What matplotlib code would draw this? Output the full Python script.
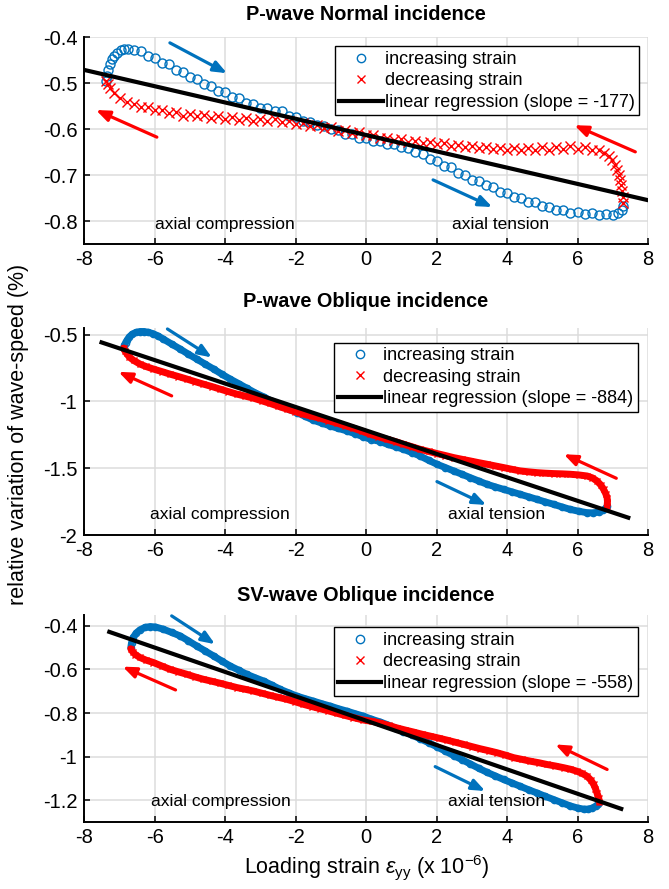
import matplotlib
matplotlib.use('Agg')
import matplotlib.pyplot as plt
import numpy as np
from matplotlib.ticker import FuncFormatter

plt.rcParams['font.family'] = 'Liberation Sans'
plt.rcParams['axes.unicode_minus'] = False
plt.rcParams['mathtext.fontset'] = 'custom'
plt.rcParams['mathtext.rm'] = 'Liberation Sans'
plt.rcParams['mathtext.it'] = 'Liberation Sans:italic'

blue = (0, 0.447, 0.741)
red = (1, 0, 0)

# ---- panel 1 : P-wave normal incidence
p1_inc_x = [-7.38, -7.36, -7.33, -7.28, -7.22, -7.15, -7.06, -6.96, -6.86, -6.76,
            -6.60, -6.40, -6.20, -6.00, -5.80, -5.60, -5.40, -5.20, -5.00, -4.80,
            -4.60, -4.40, -4.20, -4.00, -3.80, -3.60, -3.40, -3.20, -3.00, -2.80,
            -2.60, -2.40, -2.20, -2.00, -1.80, -1.60, -1.40, -1.20, -1.00, -0.80,
            -0.60, -0.40, -0.20, 0.00, 0.20, 0.40, 0.60, 0.80, 1.00, 1.20,
            1.40, 1.60, 1.80, 2.00, 2.20, 2.40, 2.60, 2.80, 3.00, 3.20,
            3.40, 3.60, 3.80, 4.00, 4.20, 4.40, 4.60, 4.80, 5.00, 5.20,
            5.40, 5.60, 5.80, 6.00, 6.20, 6.40, 6.60, 6.80, 7.00, 7.15, 7.25, 7.30]
p1_inc_y = [-0.495, -0.484, -0.471, -0.459, -0.448, -0.440, -0.433, -0.428, -0.426, -0.425,
            -0.428, -0.430, -0.440, -0.444, -0.456, -0.459, -0.471, -0.475, -0.487, -0.491,
            -0.502, -0.506, -0.517, -0.519, -0.529, -0.531, -0.542, -0.544, -0.553, -0.554,
            -0.561, -0.561, -0.571, -0.573, -0.582, -0.583, -0.591, -0.592, -0.600, -0.601,
            -0.610, -0.611, -0.619, -0.619, -0.626, -0.625, -0.632, -0.631, -0.639, -0.640,
            -0.650, -0.653, -0.664, -0.668, -0.679, -0.683, -0.695, -0.699, -0.710, -0.712,
            -0.722, -0.725, -0.737, -0.739, -0.748, -0.749, -0.757, -0.758, -0.767, -0.768,
            -0.775, -0.775, -0.781, -0.779, -0.785, -0.782, -0.787, -0.784, -0.786, -0.781, -0.775, -0.767]
p1_dec_x = [7.30, 7.29, 7.27, 7.24, 7.21, 7.17, 7.12, 7.06, 6.98, 6.88, 6.75, 6.60,
            6.40, 6.20, 6.00, 5.80, 5.60, 5.40, 5.20, 5.00, 4.80, 4.60,
            4.40, 4.20, 4.00, 3.80, 3.60, 3.40, 3.20, 3.00, 2.80, 2.60,
            2.40, 2.20, 2.00, 1.80, 1.60, 1.40, 1.20, 1.00, 0.80, 0.60,
            0.40, 0.20, 0.00, -0.20, -0.40, -0.60, -0.80, -1.00, -1.20, -1.40,
            -1.60, -1.80, -2.00, -2.20, -2.40, -2.60, -2.80, -3.00, -3.20, -3.40,
            -3.60, -3.80, -4.00, -4.20, -4.40, -4.60, -4.80, -5.00, -5.20, -5.40,
            -5.60, -5.80, -6.00, -6.20, -6.40, -6.60, -6.80, -7.00, -7.15, -7.28, -7.34, -7.37]
p1_dec_y = [-0.760, -0.748, -0.735, -0.722, -0.710, -0.699, -0.688, -0.677, -0.667, -0.658, -0.651, -0.646,
            -0.645, -0.639, -0.643, -0.637, -0.642, -0.638, -0.644, -0.639, -0.645, -0.640,
            -0.644, -0.641, -0.645, -0.640, -0.643, -0.638, -0.641, -0.636, -0.639, -0.634,
            -0.636, -0.630, -0.632, -0.627, -0.630, -0.625, -0.627, -0.621, -0.624, -0.618,
            -0.619, -0.612, -0.613, -0.606, -0.607, -0.601, -0.603, -0.596, -0.597, -0.591,
            -0.592, -0.586, -0.588, -0.582, -0.584, -0.578, -0.582, -0.577, -0.581, -0.575,
            -0.579, -0.573, -0.577, -0.571, -0.575, -0.569, -0.572, -0.566, -0.570, -0.563,
            -0.564, -0.557, -0.558, -0.551, -0.551, -0.544, -0.540, -0.531, -0.522, -0.511, -0.502, -0.494]

# ---- panel 2 : P-wave oblique incidence
p2_inc_x = [-6.88, -6.86, -6.83, -6.78, -6.72, -6.64, -6.54, -6.42, -6.30, -6.18, -6.05,
            -5.90, -5.76, -5.52, -5.28, -5.05, -4.81, -4.57, -4.33, -4.10, -3.86, -3.62,
            -3.39, -3.15, -2.91, -2.67, -2.44, -2.20, -1.97, -1.73, -1.50, -1.26, -1.02,
            -0.79, -0.55, -0.31, -0.08, 0.15, 0.40, 0.62, 0.85, 1.06, 1.30, 1.53, 1.77,
            2.01, 2.25, 2.48, 2.72, 2.95, 3.19, 3.43, 3.67, 3.90, 4.14, 4.37, 4.61, 4.85,
            5.08, 5.32, 5.56, 5.79, 6.03, 6.27, 6.45, 6.60, 6.72, 6.80, 6.84]
p2_inc_y = [-0.600, -0.580, -0.560, -0.538, -0.515, -0.496, -0.483, -0.476, -0.476, -0.482, -0.492,
            -0.510, -0.532, -0.570, -0.607, -0.645, -0.682, -0.720, -0.757, -0.795, -0.832, -0.866,
            -0.900, -0.935, -0.965, -1.000, -1.033, -1.058, -1.083, -1.112, -1.140, -1.162, -1.183,
            -1.202, -1.220, -1.242, -1.265, -1.285, -1.300, -1.322, -1.340, -1.358, -1.383, -1.408, -1.440,
            -1.470, -1.495, -1.520, -1.545, -1.570, -1.595, -1.620, -1.640, -1.658, -1.677, -1.695, -1.714, -1.733,
            -1.752, -1.770, -1.790, -1.808, -1.822, -1.833, -1.834, -1.828, -1.815, -1.800, -1.783]
p2_dec_x = [6.84, 6.85, 6.84, 6.80, 6.74, 6.66, 6.55, 6.42, 6.27, 6.03, 5.79, 5.56, 5.32,
            5.08, 4.85, 4.61, 4.37, 4.14, 3.90, 3.67, 3.43, 3.19, 2.95, 2.72, 2.48, 2.25,
            2.01, 1.77, 1.53, 1.30, 1.06, 0.85, 0.59, 0.35, 0.11, -0.12, -0.36, -0.60, -0.83,
            -1.07, -1.31, -1.55, -1.78, -2.02, -2.25, -2.49, -2.72, -2.96, -3.20, -3.43, -3.67,
            -3.91, -4.15, -4.38, -4.62, -4.86, -5.09, -5.33, -5.57, -5.80, -6.04, -6.25, -6.42,
            -6.60, -6.72, -6.80, -6.85, -6.88]
p2_dec_y = [-1.783, -1.750, -1.720, -1.690, -1.658, -1.625, -1.595, -1.572, -1.558, -1.550, -1.545, -1.542, -1.540,
            -1.537, -1.533, -1.527, -1.520, -1.508, -1.495, -1.483, -1.470, -1.458, -1.445, -1.433, -1.420, -1.405,
            -1.390, -1.374, -1.358, -1.339, -1.320, -1.302, -1.283, -1.264, -1.245, -1.222, -1.200, -1.181, -1.162,
            -1.143, -1.125, -1.110, -1.095, -1.076, -1.057, -1.036, -1.015, -0.995, -0.975, -0.960, -0.945,
            -0.926, -0.907, -0.888, -0.870, -0.851, -0.832, -0.813, -0.795, -0.776, -0.757, -0.738, -0.720,
            -0.692, -0.668, -0.640, -0.620, -0.600]

# ---- panel 3 : SV-wave oblique incidence
p3_inc_x = [-6.68, -6.66, -6.61, -6.53, -6.42, -6.28, -6.13, -5.98, -5.76, -5.52, -5.28,
            -5.05, -4.81, -4.57, -4.33, -4.10, -3.86, -3.62, -3.39, -3.15, -2.91, -2.67,
            -2.44, -2.20, -1.97, -1.73, -1.50, -1.26, -1.02, -0.79, -0.55, -0.31, -0.08,
            0.15, 0.38, 0.60, 0.83, 1.06, 1.30, 1.53, 1.77, 2.01, 2.25, 2.48, 2.72, 2.95,
            3.19, 3.43, 3.67, 3.90, 4.14, 4.37, 4.61, 4.85, 5.08, 5.32, 5.56, 5.79, 6.00,
            6.17, 6.30, 6.42, 6.52, 6.58, 6.62]
p3_inc_y = [-0.500, -0.478, -0.453, -0.433, -0.418, -0.407, -0.403, -0.405, -0.415, -0.430, -0.446,
            -0.468, -0.492, -0.515, -0.538, -0.561, -0.584, -0.603, -0.622, -0.638, -0.653, -0.672,
            -0.691, -0.707, -0.722, -0.734, -0.745, -0.757, -0.768, -0.780, -0.791, -0.803, -0.814,
            -0.828, -0.840, -0.853, -0.869, -0.885, -0.901, -0.918, -0.936, -0.955, -0.975, -0.995, -1.014, -1.033,
            -1.053, -1.072, -1.089, -1.105, -1.121, -1.136, -1.152, -1.167, -1.182, -1.197, -1.212, -1.226, -1.236,
            -1.241, -1.241, -1.236, -1.227, -1.218, -1.210]
p3_dec_x = [6.62, 6.60, 6.55, 6.51, 6.46, 6.38, 6.27, 6.13, 5.98, 5.80, 5.61, 5.37, 5.13,
            4.90, 4.66, 4.43, 4.19, 3.95, 3.71, 3.48, 3.24, 3.00, 2.77, 2.53, 2.29, 2.06,
            1.82, 1.58, 1.34, 1.11, 0.87, 0.64, 0.40, 0.16, -0.08, -0.36, -0.60, -0.83, -1.07,
            -1.31, -1.55, -1.78, -2.02, -2.25, -2.49, -2.72, -2.96, -3.20, -3.43, -3.67, -3.91,
            -4.15, -4.38, -4.62, -4.86, -5.09, -5.33, -5.57, -5.80, -6.04, -6.25, -6.42, -6.55,
            -6.63, -6.68]
p3_dec_y = [-1.210, -1.188, -1.166, -1.147, -1.128, -1.108, -1.090, -1.077, -1.067, -1.058, -1.051, -1.043, -1.036,
            -1.028, -1.021, -1.013, -1.005, -0.993, -0.982, -0.973, -0.964, -0.954, -0.944, -0.934, -0.924, -0.915,
            -0.906, -0.897, -0.887, -0.878, -0.868, -0.857, -0.846, -0.838, -0.832, -0.821, -0.811, -0.801, -0.790,
            -0.780, -0.770, -0.760, -0.748, -0.737, -0.728, -0.719, -0.709, -0.699, -0.691, -0.683, -0.673,
            -0.663, -0.654, -0.645, -0.634, -0.622, -0.611, -0.599, -0.584, -0.568, -0.557, -0.545, -0.532,
            -0.518, -0.505]

titles = ['P-wave Normal incidence', 'P-wave Oblique incidence', 'SV-wave Oblique incidence']
slope_labels = [-177, -884, -558]
reg_slope = [-0.0177, -0.0878, -0.0559]
reg_icpt = [-0.6125, -1.217, -0.835]
reg_x = [[-8.0, 8.0], [-7.51, 7.44], [-7.29, 7.24]]
ylims = [(-0.85, -0.4), (-2.0, -0.45), (-1.3, -0.35)]
yticks = [[-0.8, -0.7, -0.6, -0.5, -0.4], [-2, -1.5, -1, -0.5], [-1.2, -1, -0.8, -0.6, -0.4]]

# arrows: (tail x, tail y, head x, head y, colour)
arrows = [
    [(-5.57, -0.412, -3.95, -0.478, blue), (1.90, -0.710, 3.58, -0.769, blue),
     (-5.94, -0.617, -7.67, -0.558, red), (7.64, -0.649, 5.91, -0.591, red)],
    [(-5.64, -0.457, -4.38, -0.670, blue), (2.01, -1.600, 3.41, -1.775, blue),
     (-5.52, -0.958, -7.03, -0.778, red), (7.10, -1.575, 5.61, -1.395, red)],
    [(-5.52, -0.354, -4.29, -0.484, blue), (1.96, -1.046, 3.38, -1.158, blue),
     (-5.41, -0.694, -6.91, -0.587, red), (6.84, -1.059, 5.37, -0.944, red)],
]
comp_pos = [(-4.02, -0.806), (-4.16, -1.850), (-4.13, -1.206)]
tens_pos = [(3.82, -0.806), (3.69, -1.850), (3.71, -1.206)]

inc = [(p1_inc_x, p1_inc_y), (p2_inc_x, p2_inc_y), (p3_inc_x, p3_inc_y)]
dec = [(p1_dec_x, p1_dec_y), (p2_dec_x, p2_dec_y), (p3_dec_x, p3_dec_y)]

axpos = [[0.126, 0.7252, 0.8426, 0.2328],
         [0.126, 0.3982, 0.8426, 0.2328],
         [0.126, 0.0754, 0.8426, 0.2328]]
title_y = [0.984, 0.661, 0.330]
leg_anchor = [(0.984, 0.956), (0.982, 0.93), (0.982, 0.94)]

fig = plt.figure(figsize=(6.69, 8.89), dpi=100)
fmt = FuncFormatter(lambda v, p: '%g' % v)

for i in range(3):
    ax = fig.add_axes(axpos[i])
    xi, yi = inc[i]
    xd, yd = dec[i]
    if i > 0:
        # dense bands in the oblique panels
        ax.plot(xi, yi, '-', color=blue, lw=5, zorder=2, solid_capstyle='round')
        ax.plot(xd, yd, '-', color=red, lw=5, zorder=3, solid_capstyle='round')
        ms = 4.5
    else:
        ms = 6.5
    ax.plot(xi, yi, 'o', mfc='none', mec=blue, ms=ms, mew=1.0, ls='none', zorder=2,
            label='increasing strain')
    ax.plot(xd, yd, 'x', color=red, ms=ms, mew=1.0, ls='none', zorder=3,
            label='decreasing strain')
    rx = np.array(reg_x[i])
    ax.plot(rx, reg_icpt[i] + reg_slope[i] * rx, '-', color='k', lw=3, zorder=4,
            label='linear regression (slope = %d)' % slope_labels[i])

    for (x0, y0, x1, y1, c) in arrows[i]:
        ax.annotate('', xy=(x1, y1), xytext=(x0, y0),
                    arrowprops=dict(arrowstyle='-|>,head_length=0.8,head_width=0.32',
                                    color=c, lw=2.3, shrinkA=0, shrinkB=0), zorder=5)

    ax.text(comp_pos[i][0], comp_pos[i][1], 'axial compression', ha='center', va='center', fontsize=12.5)
    ax.text(tens_pos[i][0], tens_pos[i][1], 'axial tension', ha='center', va='center', fontsize=12.5)

    ax.set_xlim(-8, 8)
    ax.set_ylim(*ylims[i])
    ax.set_xticks(range(-8, 9, 2))
    ax.set_yticks(yticks[i])
    ax.xaxis.set_major_formatter(fmt)
    ax.yaxis.set_major_formatter(fmt)
    ax.grid(True, color='#dcdcdc', lw=1.1)
    ax.set_axisbelow(True)
    for s in ['top', 'right']:
        ax.spines[s].set_visible(False)
    for s in ['left', 'bottom']:
        ax.spines[s].set_linewidth(1.4)
    ax.tick_params(direction='in', length=4, width=1.1, labelsize=14.5)
    ax.tick_params(axis='x', pad=4)
    ax.tick_params(axis='y', pad=5)

    leg = ax.legend(loc='upper right', bbox_to_anchor=leg_anchor[i], borderaxespad=0,
                    fontsize=13, fancybox=False, framealpha=1, edgecolor='k',
                    handlelength=2.4, handletextpad=0.1, borderpad=0.25, labelspacing=0.25,
                    markerscale=6.0 / ms)
    leg.get_frame().set_linewidth(1.0)

    fig.text(0.547, title_y[i], titles[i], ha='center', va='center', fontsize=14.3, fontweight='bold')

fig.text(0.027, 0.511, 'relative variation of wave-speed (%)', rotation=90,
         ha='center', va='center', fontsize=15.5)
fig.text(0.549, 0.024, r'Loading strain $\epsilon_{\mathrm{yy}}$ (x 10$^{\mathrm{-6}}$)',
         ha='center', va='center', fontsize=15.5)

fig.savefig('out.png', dpi=100)
